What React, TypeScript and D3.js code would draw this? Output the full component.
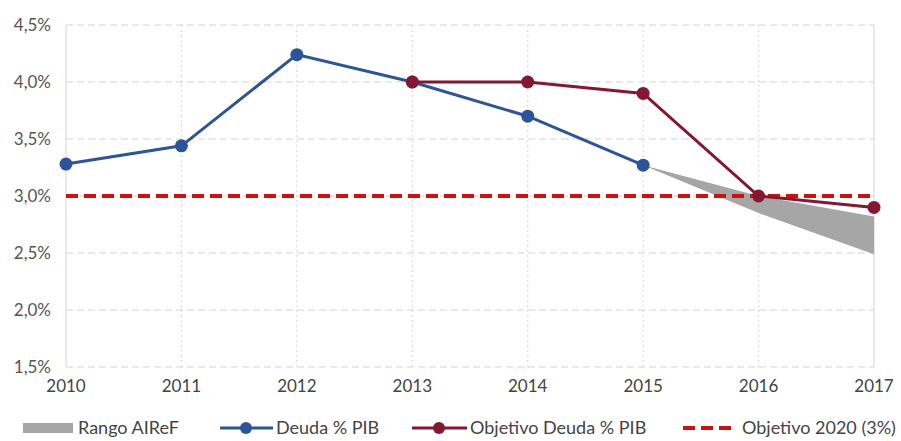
import React, { useEffect, useRef } from 'react';
import * as d3 from 'd3';

const years = ['2010', '2011', '2012', '2013', '2014', '2015', '2016', '2017'];
const deuda: (number | null)[] = [3.28, 3.44, 4.24, 4.0, 3.7, 3.27, null, null];
const objetivoDeuda: (number | null)[] = [null, null, null, 4.0, 4.0, 3.9, 3.0, 2.9];
const rangoYears = ['2015', '2016', '2017'];
const rangoHigh = [3.27, 3.0, 2.82];
const rangoLow = [3.27, 2.85, 2.49];
const objetivo2020 = 3.0;
const yTicks = [1.5, 2.0, 2.5, 3.0, 3.5, 4.0, 4.5];
const legendLabels = ['Rango AIReF', 'Deuda % PIB', 'Objetivo Deuda % PIB', 'Objetivo 2020 (3%)'];

const BLUE = '#2c5497';
const DARKRED = '#841732';
const RED = '#cc1111';
const GRAY = '#a6a6a6';
const FONT = 'Lato, "Open Sans", sans-serif';

const App: React.FC = () => {
  const svgRef = useRef<SVGSVGElement>(null);

  useEffect(() => {
    if (!svgRef.current) return;
    const svg = d3.select(svgRef.current);
    svg.selectAll('*').remove();

    const margin = { top: 25, right: 27, bottom: 74, left: 66 };
    const width = 901 - margin.left - margin.right;
    const height = 441 - margin.top - margin.bottom;

    const g = svg.append('g').attr('transform', `translate(${margin.left},${margin.top})`);

    const x = d3.scalePoint<string>().domain(years).range([0, width]);
    const y = d3.scaleLinear().domain([1.5, 4.5]).range([height, 0]);

    // horizontal grid
    g.selectAll('.gy')
      .data(yTicks)
      .enter()
      .append('line')
      .attr('x1', 0)
      .attr('x2', width)
      .attr('y1', d => y(d))
      .attr('y2', d => y(d))
      .attr('stroke', '#d4d4d4')
      .attr('stroke-width', 1.2)
      .attr('stroke-dasharray', '7,4');

    // vertical grid
    g.selectAll('.gx')
      .data(years)
      .enter()
      .append('line')
      .attr('x1', d => x(d)!)
      .attr('x2', d => x(d)!)
      .attr('y1', 0)
      .attr('y2', height)
      .attr('stroke', '#dadada')
      .attr('stroke-width', 1.2)
      .attr('stroke-dasharray', (d, i) => (i === 0 || i === years.length - 1 ? null : '2,3'));

    // y labels
    g.selectAll('.yl')
      .data(yTicks)
      .enter()
      .append('text')
      .attr('x', -15)
      .attr('y', d => y(d))
      .attr('dy', '0.35em')
      .attr('text-anchor', 'end')
      .attr('font-family', FONT)
      .attr('font-size', 17)
      .attr('fill', '#555')
      .text(d => d.toFixed(1).replace('.', ',') + '%');

    // x labels
    g.selectAll('.xl')
      .data(years)
      .enter()
      .append('text')
      .attr('x', d => x(d)!)
      .attr('y', height + 25)
      .attr('text-anchor', 'middle')
      .attr('font-family', FONT)
      .attr('font-size', 17)
      .attr('fill', '#444')
      .text(d => d);

    // range area
    const rango = rangoYears.map((yr, i) => ({ yr, hi: rangoHigh[i], lo: rangoLow[i] }));
    const area = d3
      .area<{ yr: string; hi: number; lo: number }>()
      .x(d => x(d.yr)!)
      .y0(d => y(d.lo))
      .y1(d => y(d.hi));
    g.append('path').datum(rango).attr('fill', GRAY).attr('d', area);

    // objetivo 2020 dashed line
    g.append('line')
      .attr('x1', 0)
      .attr('x2', width)
      .attr('y1', y(objetivo2020))
      .attr('y2', y(objetivo2020))
      .attr('stroke', RED)
      .attr('stroke-width', 4)
      .attr('stroke-dasharray', '12,6');

    const line = d3
      .line<{ yr: string; v: number | null }>()
      .defined(d => d.v !== null)
      .x(d => x(d.yr)!)
      .y(d => y(d.v as number));

    const drawSeries = (vals: (number | null)[], color: string) => {
      const pts = years.map((yr, i) => ({ yr, v: vals[i] }));
      g.append('path')
        .datum(pts)
        .attr('fill', 'none')
        .attr('stroke', color)
        .attr('stroke-width', 3)
        .attr('d', line);
      g.selectAll(null)
        .data(pts.filter(p => p.v !== null))
        .enter()
        .append('circle')
        .attr('cx', d => x(d.yr)!)
        .attr('cy', d => y(d.v as number))
        .attr('r', 6.5)
        .attr('fill', color);
    };
    drawSeries(deuda, BLUE);
    drawSeries(objetivoDeuda, DARKRED);

    // legend
    const ly = 428;
    const leg = svg.append('g');
    leg.append('rect').attr('x', 23).attr('y', ly - 5).attr('width', 50).attr('height', 10).attr('fill', GRAY);
    leg.append('line').attr('x1', 220).attr('x2', 273).attr('y1', ly).attr('y2', ly).attr('stroke', BLUE).attr('stroke-width', 3);
    leg.append('circle').attr('cx', 246).attr('cy', ly).attr('r', 6).attr('fill', BLUE);
    leg.append('line').attr('x1', 412).attr('x2', 467).attr('y1', ly).attr('y2', ly).attr('stroke', DARKRED).attr('stroke-width', 3);
    leg.append('circle').attr('cx', 439).attr('cy', ly).attr('r', 6).attr('fill', DARKRED);
    leg.append('line').attr('x1', 683).attr('x2', 737).attr('y1', ly).attr('y2', ly).attr('stroke', RED).attr('stroke-width', 4).attr('stroke-dasharray', '12,6');
    const textX = [78, 276, 470, 742];
    leg.selectAll('.lt')
      .data(legendLabels)
      .enter()
      .append('text')
      .attr('x', (d, i) => textX[i])
      .attr('y', ly)
      .attr('dy', '0.35em')
      .attr('font-family', FONT)
      .attr('font-size', 18)
      .attr('fill', '#444')
      .text(d => d);
  }, []);

  return (
    <svg
      ref={svgRef}
      width={901}
      height={441}
      style={{ position: 'absolute', left: 0, top: 0, background: '#fff' }}
    />
  );
};

export default App;
